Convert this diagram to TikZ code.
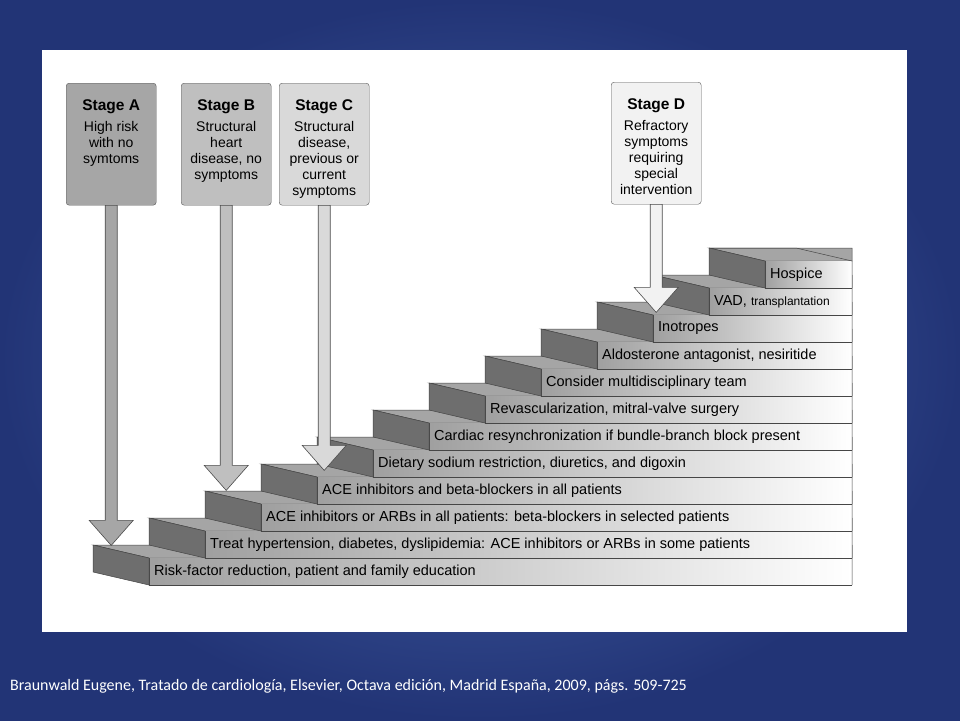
\documentclass[tikz,border=0pt]{standalone}
\usepackage{fontspec}
\setmainfont{Liberation Sans}
\newfontfamily\citefont{Carlito}
\usetikzlibrary{positioning,calc}
\definecolor{bgouter}{RGB}{34,52,118}
\definecolor{bginner}{RGB}{74,104,174}
\definecolor{facegray}{RGB}{110,110,110}
\definecolor{treadgray}{RGB}{165,165,165}
\definecolor{edgegray}{RGB}{70,70,70}
\tikzset{
  stagebox/.style = {rectangle, draw=gray!70!black, rounded corners=3pt,
                     inner sep=3pt, anchor=north west,
                     font=\fontsize{14}{16}\selectfont},
  steplab/.style  = {anchor=west, inner sep=0pt,
                     font=\fontsize{14.5}{16}\selectfont},
  fatarr/.style   = {draw=gray!60!black, line width=0.6pt}
}
\newcommand{\stagetext}[2]{\parbox[t][116pt][t]{84pt}{\centering
  {\fontsize{15.5}{18}\selectfont\rule{0pt}{24pt}\textbf{#1}}\\[5pt] #2}}
\newcommand{\fatarrow}[3]{% box, tip y, fill
  \path (#1.south) coordinate (#1top);
  \filldraw[fatarr, fill=#3]
    ($(#1top)+(-6,0)$) -- ($(#1top)+(-6,#2-25)$) -- ($(#1top)+(-22,#2-25)$)
    -- ($(#1top)+(0,#2)$) -- ($(#1top)+(22,#2-25)$) -- ($(#1top)+(6,#2-25)$)
    -- ($(#1top)+(6,0)$) -- cycle;}
\begin{document}
\begin{tikzpicture}[x=1pt,y=-1pt]
  % background
  \shade[inner color=bginner, outer color=bgouter] (0,0) rectangle (960,720);
  \useasboundingbox (0,0) rectangle (960,720);
  \fill[white] (42,50) rectangle (907,632);
  % stairs, bottom step first
  \foreach \i/\txt in {
      0/{Risk-factor reduction, patient and family education},
      1/{Treat hypertension, diabetes, dyslipidemia: ACE inhibitors or ARBs in some patients},
      2/{ACE inhibitors or ARBs in all patients: beta-blockers in selected patients},
      3/ACE inhibitors and beta-blockers in all patients,
      4/{Dietary sodium restriction, diuretics, and digoxin},
      5/Cardiac resynchronization if bundle-branch block present,
      6/{Revascularization, mitral-valve surgery},
      7/Consider multidisciplinary team,
      8/{Aldosterone antagonist, nesiritide},
      9/Inotropes,
      10/{VAD, {\fontsize{12}{13}\selectfont transplantation}},
      11/Hospice}{
    \pgfmathsetmacro{\xs}{93+56*\i}
    \pgfmathsetmacro{\bs}{585-27*\i}
    \pgfmathsetmacro{\ts}{\bs-27}
    % tread
    \filldraw[fill=treadgray, draw=edgegray, line width=0.5pt]
      (\xs,\ts-13) -- (\xs+56,\ts) -- (852,\ts) -- (852,\ts-13) -- cycle;
    % front of the step
    \shade[left color=gray!75, right color=white]
      (\xs+56,\ts) rectangle (852,\bs);
    \draw[edgegray, line width=0.5pt] (\xs+56,\ts) -- (\xs+56,\bs) -- (852,\bs);
    % side face
    \filldraw[fill=facegray, draw=edgegray, line width=0.5pt]
      (\xs,\ts-13) -- (\xs+56,\ts) -- (\xs+56,\bs) -- (\xs,\bs-13) -- cycle;
    \node[steplab] (row\i) at (\xs+61,\bs-13.5) {\txt};
  }
  % right edge
  \draw[edgegray, line width=0.5pt] (709,248) -- (796,248) -- (852,261)
    -- (852,585);
  % stage boxes
  \node[stagebox, fill=gray!70] (sA) at (66,83)
    {\stagetext{Stage A}{High risk\\ with no\\ symtoms}};
  \node[stagebox, fill=gray!50] (sB) at (181,83)
    {\stagetext{Stage B}{Structural\\ heart\\ disease, no\\ symptoms}};
  \node[stagebox, fill=gray!30] (sC) at (279,83)
    {\stagetext{Stage C}{Structural\\ disease,\\ previous or\\ current\\ symptoms}};
  \node[stagebox, fill=gray!10] (sD) at (611,82)
    {\stagetext{Stage D}{Refractory\\ symptoms\\ requiring\\ special\\ intervention}};
  % arrows
  \fatarrow{sA}{340}{gray!70}
  \fatarrow{sB}{285}{gray!50}
  \fatarrow{sC}{265}{gray!30}
  \fatarrow{sD}{108}{gray!10}
  % citation
  \node[anchor=west, text=white, inner sep=0pt,
        font=\citefont\fontsize{16}{18}\selectfont] (cite) at (10,686)
    {Braunwald Eugene, Tratado de cardiología, Elsevier, Octava edición, Madrid España, 2009, págs. 509-725};
\end{tikzpicture}
\end{document}
